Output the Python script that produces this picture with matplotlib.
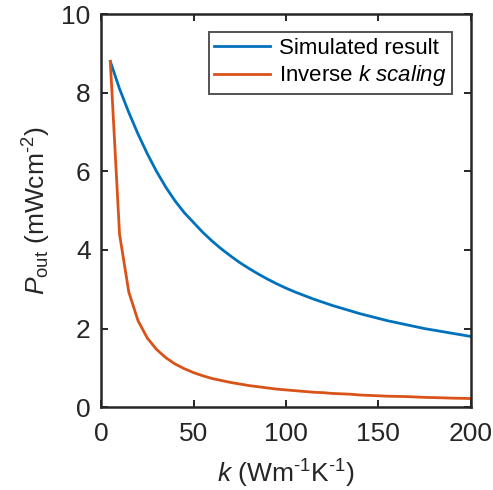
import matplotlib
matplotlib.use("Agg")
import matplotlib.pyplot as plt

plt.rcParams['font.family'] = ['Liberation Sans', 'DejaVu Sans']
plt.rcParams['mathtext.fontset'] = 'custom'
plt.rcParams['mathtext.rm'] = 'Liberation Sans'
plt.rcParams['mathtext.it'] = 'Liberation Sans:italic'

# thermal conductivity k (Wm^-1K^-1)
k_vals = [5, 10, 15, 20, 25, 30, 35, 40, 45, 50,
          55, 60, 65, 70, 75, 80, 85, 90, 95, 100,
          105, 110, 115, 120, 125, 130, 135, 140, 145, 150,
          155, 160, 165, 170, 175, 180, 185, 190, 195, 200]

# simulated output power (mWcm^-2)
p_sim = [8.80, 8.10, 7.50, 6.95, 6.45, 6.00, 5.60, 5.25, 4.95, 4.70,
         4.45, 4.23, 4.03, 3.85, 3.68, 3.53, 3.39, 3.26, 3.14, 3.03,
         2.93, 2.84, 2.75, 2.67, 2.59, 2.52, 2.45, 2.38, 2.32, 2.26,
         2.20, 2.15, 2.10, 2.05, 2.00, 1.96, 1.92, 1.88, 1.84, 1.80]

# inverse k scaling
p_inv = [8.80, 4.40, 2.93, 2.20, 1.76, 1.47, 1.26, 1.10, 0.98, 0.88,
         0.80, 0.73, 0.68, 0.63, 0.59, 0.55, 0.52, 0.49, 0.46, 0.44,
         0.42, 0.40, 0.38, 0.37, 0.35, 0.34, 0.33, 0.31, 0.30, 0.29,
         0.28, 0.275, 0.27, 0.26, 0.25, 0.244, 0.238, 0.23, 0.226, 0.22]

fig = plt.figure(figsize=(4.93, 4.90), dpi=100)
ax = fig.add_axes([0.205, 0.169, 0.750, 0.802])

ax.plot(k_vals, p_sim, color='#0072BD', lw=2.0, label='Simulated result')
ax.plot(k_vals, p_inv, color='#D95319', lw=2.0, label=r'Inverse $\mathit{k\ scaling}$')

ax.set_xlim(0, 200)
ax.set_ylim(0, 10)
ax.set_xticks([0, 50, 100, 150, 200])
ax.set_yticks([0, 2, 4, 6, 8, 10])

ax.tick_params(direction='in', length=5, width=1.4, labelsize=19,
               top=True, right=True, colors='#262626')
ax.tick_params(axis='x', pad=11)
ax.tick_params(axis='y', pad=7.5)
for s in ax.spines.values():
    s.set_linewidth(1.8)
    s.set_color('#262626')

ax.set_xlabel('$k$ (Wm$^{\u2010 1}$K$^{\u2010 1}$)', fontsize=19, color='#262626', labelpad=8)
ax.set_ylabel('$P_{\\mathrm{out}}$ (mWcm$^{\u2010 2}$)', fontsize=19, color='#262626', labelpad=6)

leg = ax.legend(loc='upper right', bbox_to_anchor=(0.949, 0.954), borderaxespad=0,
                fontsize=16, frameon=True, fancybox=False,
                edgecolor='#262626', handlelength=2.5, handletextpad=0.4,
                borderpad=0.25, labelspacing=0.2)
leg.get_frame().set_linewidth(1.4)

fig.savefig('out.png', dpi=100)
